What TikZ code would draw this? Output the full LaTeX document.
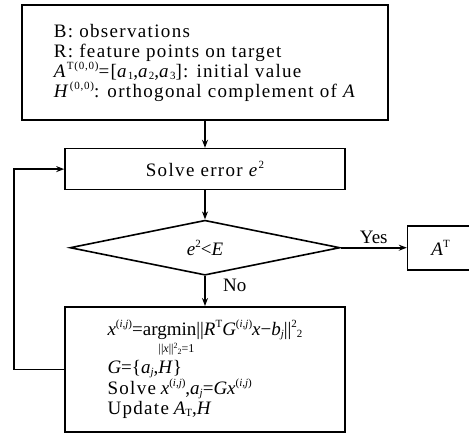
\documentclass[tikz,border=0pt]{standalone}
\usepackage{fontspec}
\setmainfont{Liberation Serif}
\newfontfamily\spaced{Liberation Serif}[LetterSpace=7]
\usetikzlibrary{positioning,shapes.geometric,arrows.meta}

\newcommand{\supx}[1]{\raisebox{0.42em}{\fontsize{11}{11}\selectfont#1}}
\newcommand{\subx}[1]{\raisebox{-0.12em}{\fontsize{11}{11}\selectfont#1}}
\newcommand{\supij}{\supx{(\textit{i},\textit{j})}}

\begin{document}
\begin{tikzpicture}[
  x=1pt, y=1pt,
  every node/.style={font=\fontsize{19}{20}\selectfont},
  process/.style={draw, minimum width=280pt, inner sep=0pt},
  decision/.style={draw, diamond, aspect=4.9, minimum width=270pt, minimum height=55pt, inner sep=0pt},
  >={Stealth[length=8pt,width=6pt]}, line width=1.6pt
]
\useasboundingbox (0,0) rectangle (469,-432);

\node[process, minimum width=366pt, minimum height=115pt, align=left, font=\fontsize{19}{20}\spaced] (init) at (205,-62.5)
  {B: observations\\
   R: feature points on target\\
   \textit{A}\supx{T(0,0)}=[\textit{a}\subx{1},\textit{a}\subx{2},\textit{a}\subx{3}]: initial value\\
   \textit{H}\supx{(0,0)}: orthogonal complement of \textit{A}};
\node[process, minimum height=41pt, below=27pt of init] (solve) {\spaced Solve error \textit{e}\supx{2}};
\node[decision, below=29pt of solve] (check) {\textit{e}\supx{2}<\textit{E}};
\node[process, minimum width=66pt, minimum height=44pt, right=66pt of check] (result) {\textit{A}\supx{T}};
\node[process, minimum height=125pt, align=left, below=30pt of check] (update)
  {\textit{x}\supij=argmin\llap{\raisebox{-17pt}[0pt][0pt]{\fontsize{12}{12}\selectfont||\textit{x}||\raisebox{4pt}{\fontsize{8}{8}\selectfont 2}\raisebox{-2pt}{\fontsize{8}{8}\selectfont 2}=1\kern2pt}}||\textit{R}\supx{T}\textit{G}\supij\textit{x}−\textit{b}\subx{\textit{j}}||\supx{2}\subx{2}\\[18pt]
   \textit{G}=\{\textit{a}\subx{\textit{j}},\textit{H}\}\\
   {\spaced Solve} \textit{x}\supij,\textit{a}\subx{\textit{j}}=\textit{Gx}\supij\\
   {\spaced Update} \textit{A}\subx{T},\textit{H}};

\draw[->] (init) -- (solve);
\draw[->] (solve) -- (check);
\draw[->] (check) -- node[above]{Yes} (result);
\draw[->] (check) -- node[pos=0.3, right=14pt]{No} (update);
\draw[->] (update.west) -- ++(-50pt,0) |- (solve.west);
\end{tikzpicture}
\end{document}
